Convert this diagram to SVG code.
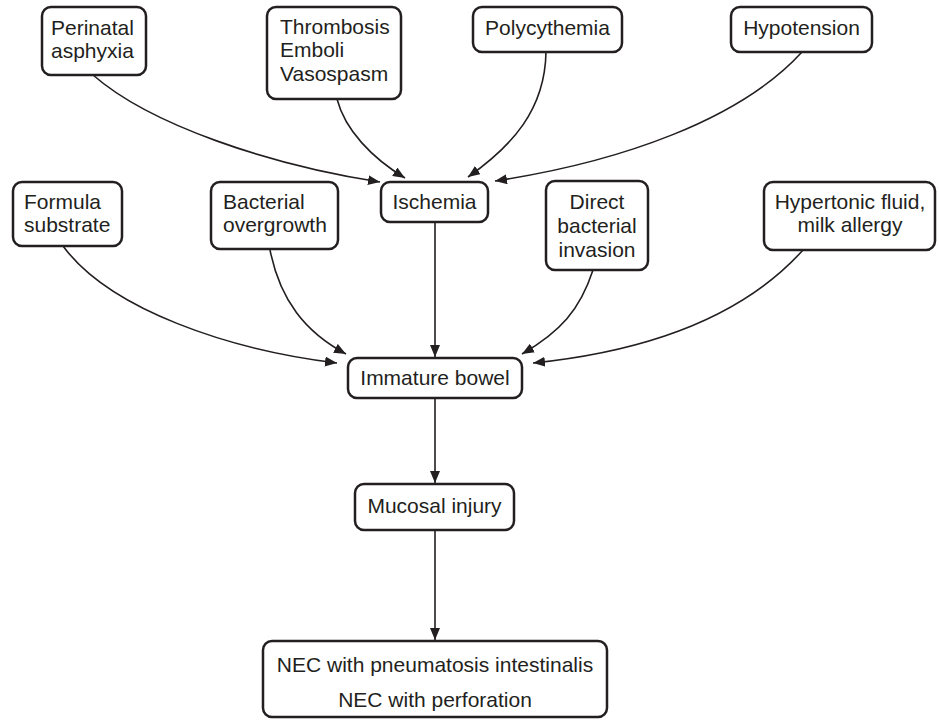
<svg xmlns="http://www.w3.org/2000/svg" width="939" height="720" viewBox="0 0 939 720">
<defs>
<style>
.box{fill:#fff;stroke:#231f20;stroke-width:2.5}
.t{font-family:"Liberation Sans",Arial,sans-serif;font-size:21px;fill:#231f20}
.c{text-anchor:middle}
.e{fill:none;stroke:#231f20;stroke-width:1.6}
</style>
<marker id="ah" viewBox="0 0 12 10" refX="12" refY="5" markerWidth="12" markerHeight="10" markerUnits="userSpaceOnUse" orient="auto">
<path d="M0,0 L12,5 L0,10 Z" fill="#231f20"/>
</marker>
</defs>
<rect width="939" height="720" fill="#fff"/>
<g id="connectors">
<path class="e" marker-end="url(#ah)" d="M93,75 C150,125 270,165 380,182"/>
<path class="e" marker-end="url(#ah)" d="M337,99 C345,130 372,158 405,178"/>
<path class="e" marker-end="url(#ah)" d="M546,52 C545,110 512,146 468,177"/>
<path class="e" marker-end="url(#ah)" d="M802,52 C740,120 620,162 495,181"/>
<path class="e" marker-end="url(#ah)" d="M63,246 C110,310 230,350 337,363"/>
<path class="e" marker-end="url(#ah)" d="M270,250 C280,300 305,332 346,354"/>
<path class="e" marker-end="url(#ah)" d="M593,270 C580,310 560,332 522,354"/>
<path class="e" marker-end="url(#ah)" d="M803,250 C740,320 640,352 533,363"/>
<path class="e" marker-end="url(#ah)" d="M435,222 L435,357"/>
<path class="e" marker-end="url(#ah)" d="M435,398 L435,483"/>
<path class="e" marker-end="url(#ah)" d="M435,530 L435,640"/>
</g>
<g id="perinatal">
<rect class="box" x="42" y="7" width="104" height="68" rx="9"/>
<text class="t" x="51" y="35">Perinatal</text>
<text class="t" x="51" y="58">asphyxia</text>
</g>
<g id="thrombosis">
<rect class="box" x="267" y="7" width="134" height="92" rx="9"/>
<text class="t" x="280" y="34">Thrombosis</text>
<text class="t" x="280" y="57">Emboli</text>
<text class="t" x="280" y="81">Vasospasm</text>
</g>
<g id="polycythemia">
<rect class="box" x="473" y="7" width="149" height="45" rx="9"/>
<text class="t c" x="547.5" y="35">Polycythemia</text>
</g>
<g id="hypotension">
<rect class="box" x="731" y="7" width="141" height="45" rx="9"/>
<text class="t c" x="801.5" y="35">Hypotension</text>
</g>
<g id="formula">
<rect class="box" x="13" y="182" width="109" height="64" rx="9"/>
<text class="t" x="24" y="209">Formula</text>
<text class="t" x="24" y="232">substrate</text>
</g>
<g id="bacterial">
<rect class="box" x="211" y="182" width="127" height="67" rx="9"/>
<text class="t" x="223" y="209">Bacterial</text>
<text class="t" x="223" y="232">overgrowth</text>
</g>
<g id="ischemia">
<rect class="box" x="381" y="182" width="107" height="40" rx="9"/>
<text class="t c" x="434.5" y="209">Ischemia</text>
</g>
<g id="direct">
<rect class="box" x="546" y="181" width="102" height="89" rx="9"/>
<text class="t c" x="597" y="209">Direct</text>
<text class="t c" x="597" y="233">bacterial</text>
<text class="t c" x="597" y="257">invasion</text>
</g>
<g id="hypertonic">
<rect class="box" x="764" y="182" width="171" height="68" rx="9"/>
<text class="t c" x="850" y="209">Hypertonic fluid,</text>
<text class="t c" x="850" y="232">milk allergy</text>
</g>
<g id="immature">
<rect class="box" x="348" y="358" width="174" height="40" rx="9"/>
<text class="t c" x="435" y="385">Immature bowel</text>
</g>
<g id="mucosal">
<rect class="box" x="355" y="484" width="159" height="46" rx="9"/>
<text class="t c" x="434.5" y="513">Mucosal injury</text>
</g>
<g id="nec">
<rect class="box" x="263" y="641" width="344" height="76" rx="9"/>
<text class="t c" x="435" y="672">NEC with pneumatosis intestinalis</text>
<text class="t c" x="435" y="707">NEC with perforation</text>
</g>
</svg>
